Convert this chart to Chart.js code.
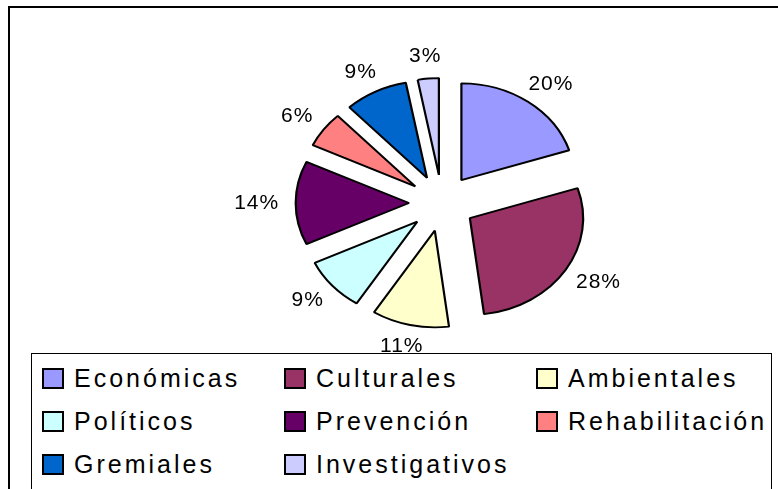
<!DOCTYPE html>
<html>
<head>
<meta charset="utf-8">
<script src="https://cdn.jsdelivr.net/npm/chart.js@4.4.1/dist/chart.umd.min.js"></script>
<style>
  html, body { margin: 0; padding: 0; background: #fff; }
  #wrap { position: relative; width: 778px; height: 489px; overflow: hidden; }
  #frame {
    position: absolute; left: 8px; top: 6px; width: 800px; height: 520px;
    border-top: 2px solid #000; border-left: 2px solid #000;
  }
  #pie { position: absolute; left: 0; top: 0; }
  #legendBox {
    position: absolute; left: 31px; top: 353px; width: 741px; height: 160px;
    border: 1px solid #000; background: #fff; box-sizing: border-box;
    padding: 3px 0 0 10px;
    display: grid; grid-template-columns: 242px 252px auto; grid-auto-rows: 43px;
    font-family: "Liberation Sans", Arial, sans-serif; font-size: 25px; letter-spacing: 3px;
  }
  .item { display: flex; align-items: center; white-space: nowrap; }
  .sw { width: 18px; height: 17px; border: 2px solid #000; margin-right: 10px; flex: none; }
</style>
</head>
<body>
<div id="wrap">
  <div id="frame"></div>
  <canvas id="pie" width="778" height="489"></canvas>
  <div id="legendBox"></div>
</div>
<script>
const categories = ['Económicas', 'Culturales', 'Ambientales', 'Políticos', 'Prevención', 'Rehabilitación', 'Gremiales', 'Investigativos'];
const percentages = [20, 28, 11, 9, 14, 6, 9, 3];
const sliceColors = ['#9999FF', '#993366', '#FFFFCC', '#CCFFFF', '#660066', '#FF8080', '#0066CC', '#CCCCFF'];

// the original pie is a bit wider than tall, every slice pulled out the same
const stretchX = 1.1;
const stretchY = 0.94;
const explode = 30;

const ellipsePie = {
    id: 'ellipsePie',
    beforeDatasetsDraw(chart) {
        const arc = chart.getDatasetMeta(0).data[0];
        const ctx = chart.ctx;
        ctx.save();
        ctx.translate(arc.x, arc.y);
        ctx.scale(stretchX, stretchY);
        ctx.translate(-arc.x, -arc.y);
    },
    beforeDatasetDraw(chart, args) {
        // chart.js grows small slices when offset is used, so move them here instead
        const ctx = chart.ctx;
        args.meta.data.forEach(arc => {
            const mid = (arc.startAngle + arc.endAngle) / 2;
            ctx.save();
            ctx.translate(Math.cos(mid) * explode, Math.sin(mid) * explode);
            arc.draw(ctx);
            ctx.restore();
        });
        return false;
    },
    afterDatasetsDraw(chart) {
        const ctx = chart.ctx;
        ctx.restore();
        // percent labels outside each slice
        ctx.save();
        ctx.font = '21px "Liberation Sans", Arial, sans-serif';
        if ('letterSpacing' in ctx) ctx.letterSpacing = '1px';
        ctx.fillStyle = '#000';
        ctx.textAlign = 'center';
        ctx.textBaseline = 'middle';
        chart.getDatasetMeta(0).data.forEach((arc, i) => {
            const p = arc.getProps(['x', 'y', 'startAngle', 'endAngle', 'outerRadius']);
            const mid = (p.startAngle + p.endAngle) / 2;
            const r = p.outerRadius + explode + 15;
            const cos = Math.cos(mid), sin = Math.sin(mid);
            const text = percentages[i] + '%';
            const w = ctx.measureText(text).width;
            const tx = p.x + cos * r * stretchX + cos * w / 2;
            const ty = p.y + sin * r * stretchY + sin * 8;
            ctx.fillText(text, tx, ty);
        });
        ctx.restore();
    }
};

const chart = new Chart(document.getElementById('pie'), {
    type: 'pie',
    data: {
        labels: categories,
        datasets: [{
            data: percentages,
            backgroundColor: sliceColors,
            borderColor: '#000',
            borderWidth: 2
        }]
    },
    options: {
        responsive: false,
        animation: false,
        radius: 103,
        layout: { padding: { left: 106, right: 0, top: 0, bottom: 83 } },
        plugins: {
            legend: { display: false },
            tooltip: { enabled: false }
        }
    },
    plugins: [ellipsePie]
});

// html legend laid out in three columns like the original
const items = (chart.legend && chart.legend.legendItems && chart.legend.legendItems.length)
    ? chart.legend.legendItems
    : categories.map((c, i) => ({ text: c, fillStyle: sliceColors[i] }));
const box = document.getElementById('legendBox');
items.forEach(it => {
    const d = document.createElement('div');
    d.className = 'item';
    const s = document.createElement('span');
    s.className = 'sw';
    s.style.background = it.fillStyle;
    d.appendChild(s);
    d.appendChild(document.createTextNode(it.text));
    box.appendChild(d);
});
</script>
</body>
</html>
